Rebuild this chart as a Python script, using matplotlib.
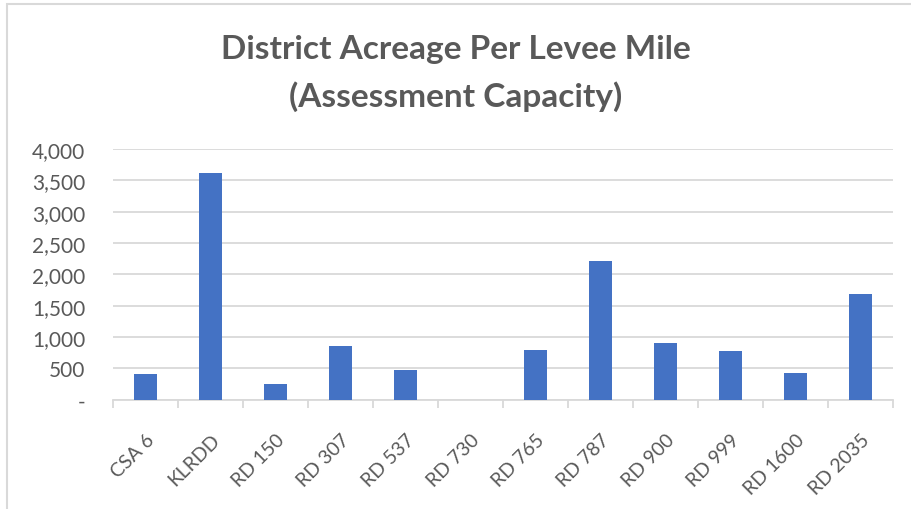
import matplotlib
matplotlib.use('Agg')
import matplotlib.pyplot as plt
from matplotlib.patches import Rectangle
from matplotlib.ticker import FuncFormatter

plt.rcParams['font.family'] = ['Lato', 'DejaVu Sans']

districts = ["CSA 6", "KLRDD", "RD 150", "RD 307", "RD 537", "RD 730",
             "RD 765", "RD 787", "RD 900", "RD 999", "RD 1600", "RD 2035"]
acreage = [410, 3610, 246, 862, 474, 0, 798, 2210, 905, 782, 431, 1683]
yticks = [0, 500, 1000, 1500, 2000, 2500, 3000, 3500, 4000]

TEXT = '#595959'
GRID = '#d9d9d9'

fig = plt.figure(figsize=(9.12, 5.1), dpi=100)
ax = fig.add_axes([113 / 912, 1 - 400.7 / 510, 780 / 912, 250.7 / 510])

x = list(range(len(districts)))
ax.bar(x, acreage, width=0.36, color='#4472C4', zorder=3)

ax.set_xlim(-0.5, len(districts) - 0.5)
ax.set_ylim(0, 4000)
ax.set_yticks(yticks)
ax.yaxis.set_major_formatter(FuncFormatter(lambda v, p: '-' if v == 0 else f'{int(v):,}'))
ax.grid(axis='y', color=GRID, linewidth=1.3, zorder=0)

ax.set_xticks(x)
ax.set_xticklabels(districts, rotation=45, ha='right', rotation_mode='anchor')
ax.set_xticks([i - 0.5 for i in range(len(districts) + 1)], minor=True)
ax.tick_params(axis='x', which='major', length=0, pad=22, labelsize=14, labelcolor=TEXT)
ax.tick_params(axis='x', which='minor', length=6, width=1.3, color=GRID)
ax.tick_params(axis='y', length=0, pad=20, labelsize=15, labelcolor=TEXT)

for s in ['top', 'right', 'left']:
    ax.spines[s].set_visible(False)
ax.spines['bottom'].set_color(GRID)
ax.spines['bottom'].set_linewidth(1.3)

fig.text(0.5, 1 - 50 / 510, 'District Acreage Per Levee Mile', ha='center', va='center',
         fontsize=24, fontweight='bold', color=TEXT)
fig.text(0.5, 1 - 97 / 510, '(Assessment Capacity)', ha='center', va='center',
         fontsize=24, fontweight='bold', color=TEXT)

# chart frame (only left/top edges visible in the crop)
fig.patches.append(Rectangle((7 / 912, -0.1), 1.2, 1 - 5 / 510 + 0.1, transform=fig.transFigure,
                             fill=False, edgecolor=GRID, linewidth=1.5))

fig.savefig('out.png', dpi=100)
